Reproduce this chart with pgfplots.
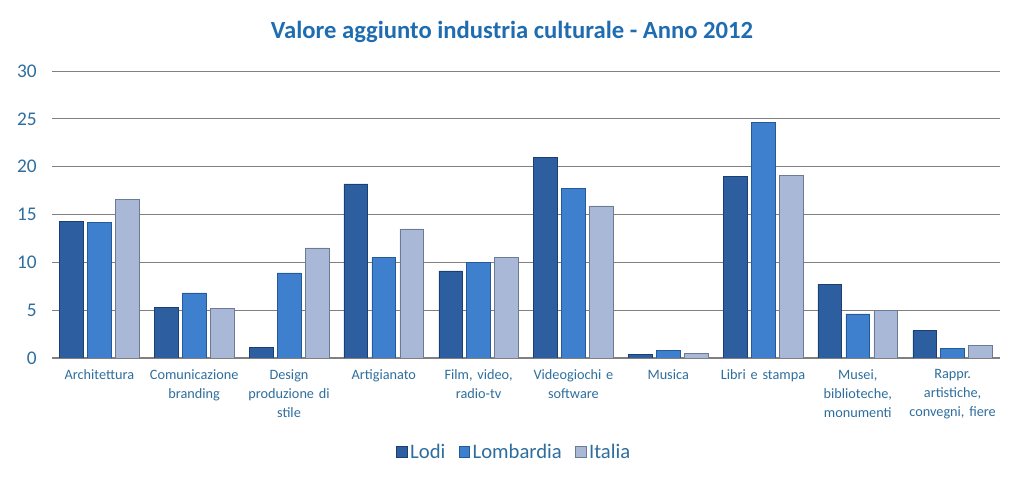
\documentclass[border=0pt]{standalone}
\usepackage{pgfplots}
\pgfplotsset{compat=1.18}
\usepackage{fontspec}
\setmainfont{Carlito}
\definecolor{titleblue}{HTML}{1F6DB0}
\definecolor{tickblue}{HTML}{2E6E9E}
\definecolor{gridgray}{HTML}{808080}
\definecolor{lodiF}{HTML}{2C5EA0}
\definecolor{lodiE}{HTML}{1A3F70}
\definecolor{lombF}{HTML}{3E80CE}
\definecolor{lombE}{HTML}{245A99}
\definecolor{itaF}{HTML}{A9B8D6}
\definecolor{itaE}{HTML}{6D7A94}
\begin{document}
\begin{tikzpicture}
\useasboundingbox (0,0) rectangle (768pt,363pt);
\node[font=\fontsize{18.5}{21}\selectfont\bfseries, text=titleblue] at (384pt,339pt) {Valore aggiunto industria culturale - Anno 2012};
\begin{axis}[
  at={(39pt,94.5pt)}, anchor=south west,
  scale only axis, width=711pt, height=215.25pt,
  xmin=-0.5, xmax=9.5, ymin=0, ymax=30,
  ytick={0,5,...,30},
  xtick={0,...,9},
  xticklabels={Architettura,Comunicazione\\branding,Design\\produzione di\\stile,Artigianato,{Film, video,\\radio-tv},Videogiochi e\\software,Musica,Libri e stampa,{Musei,\\biblioteche,\\monumenti},{Rappr.\\artistiche,\\convegni, fiere}},
  xticklabel style={align=center, text width=75pt, font=\fontsize{10.7}{14.2}\selectfont, text=tickblue, anchor=north, yshift=-5pt},
  yticklabel style={font=\fontsize{14.5}{16}\selectfont, text=tickblue, xshift=-8pt},
  /pgf/number format/assume math mode=true,
  major tick length=0pt,
  axis line style={draw=none},
  ymajorgrids, grid style={gridgray, line width=0.7pt},
  extra y ticks={0}, extra y tick labels={}, extra y tick style={grid style={gridgray,line width=0.9pt}},
  bar width=0.25,
  legend columns=3,
  legend style={at={(0.488,-0.3275)}, anchor=center, draw=none, font=\fontsize{15.5}{17}\selectfont, text=tickblue, /tikz/every even column/.append style={column sep=8pt}},
  legend image code/.code={\draw[#1] (0pt,-4pt) rectangle (8pt,4pt);},
]
\addplot[ybar, bar shift=-0.295, draw=lodiE, fill=lodiF] coordinates {
(0,14.3) (1,5.3) (2,1.1) (3,18.2) (4,9.1) (5,21.0) (6,0.4) (7,19.0) (8,7.7) (9,2.9)};
\addplot[ybar, bar shift=0, draw=lombE, fill=lombF] coordinates {
(0,14.2) (1,6.8) (2,8.9) (3,10.5) (4,10.0) (5,17.7) (6,0.8) (7,24.6) (8,4.6) (9,1.0)};
\addplot[ybar, bar shift=0.295, draw=itaE, fill=itaF] coordinates {
(0,16.6) (1,5.2) (2,11.5) (3,13.5) (4,10.5) (5,15.9) (6,0.5) (7,19.1) (8,5.0) (9,1.3)};
\legend{Lodi,Lombardia,Italia}
\end{axis}
\end{tikzpicture}
\end{document}
